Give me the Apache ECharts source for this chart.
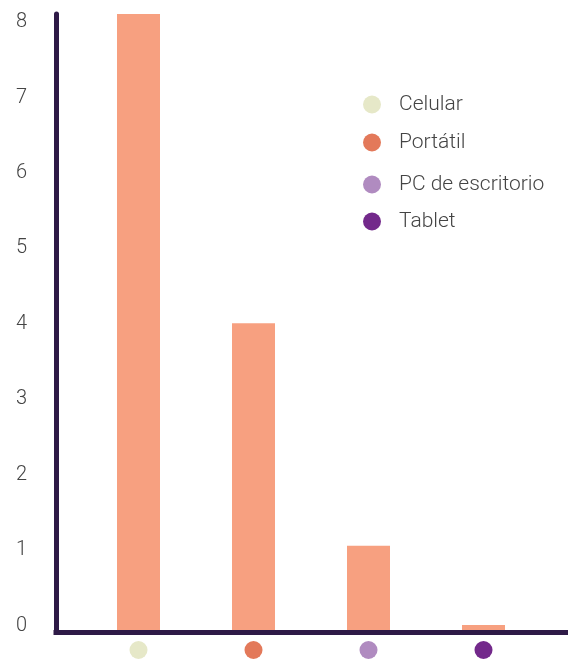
<!DOCTYPE html>
<html>
<head>
<meta charset="utf-8">
<script src="https://cdn.jsdelivr.net/npm/echarts@6/dist/echarts.min.js"></script>
<style>
  html, body { margin: 0; padding: 0; background: #ffffff; }
  #chart { width: 568px; height: 660px; }
</style>
</head>
<body>
<div id="chart"></div>
<script>
// Dispositivos usados y su valor
const categories = ['Celular', 'Portátil', 'PC de escritorio', 'Tablet'];
const values = [8.2, 4.1, 1.15, 0.1];
const dotColors = ['#e6e8c8', '#e3795a', '#b08bc0', '#73298b'];
const yTicks = [0, 1, 2, 3, 4, 5, 6, 7, 8];

const barColor = '#f7a080';
const axisColor = '#2e1a47';
const textColor = '#444444';
const fontFamily = 'Roboto, "Noto Sans", sans-serif';

// Legend rows sit at slightly uneven heights
const legendTops = [94, 132, 174, 211];

const chart = echarts.init(document.getElementById('chart'), null, { renderer: 'canvas' });

const rich = {};
dotColors.forEach((c, i) => {
  rich['d' + i] = { width: 18, height: 18, borderRadius: 9, backgroundColor: c };
});

const series = categories.map((name, i) => ({
  name: name,
  type: 'bar',
  stack: 'uso',
  xAxisIndex: 0,
  yAxisIndex: 0,
  barWidth: 43,
  itemStyle: { color: barColor },
  emphasis: { disabled: true },
  data: values.map((v, j) => (j === i ? v : '-'))
}));

const legends = categories.map((name, i) => ({
  top: legendTops[i],
  left: 363,
  padding: 0,
  orient: 'vertical',
  icon: 'circle',
  itemWidth: 18,
  itemHeight: 18,
  selectedMode: false,
  textStyle: {
    fontSize: 21, color: textColor, fontFamily: fontFamily, fontWeight: 300,
    padding: [0, 0, 0, 13]
  },
  data: [{ name: name, itemStyle: { color: dotColors[i] } }]
}));

chart.setOption({
  animation: false,
  grid: [
    { left: 81, right: 27, top: 14, bottom: 27.5 },
    { left: 56, right: 0, top: 14, bottom: 27.5 }
  ],
  legend: legends,
  xAxis: [
    {
      type: 'category',
      gridIndex: 0,
      data: categories,
      axisLine: { show: false },
      axisTick: { show: false },
      axisLabel: {
        margin: 8.5,
        formatter: (val, idx) => '{d' + idx + '|}',
        rich: rich
      }
    },
    {
      type: 'value',
      gridIndex: 1,
      z: 10,
      axisLine: { show: true, lineStyle: { color: axisColor, width: 5, cap: 'square' } },
      axisTick: { show: false },
      axisLabel: { show: false },
      splitLine: { show: false }
    }
  ],
  yAxis: [
    {
      type: 'value',
      gridIndex: 0,
      min: 0,
      max: 8.2,
      interval: 1,
      offset: 25,
      z: 10,
      axisLine: { show: true, lineStyle: { color: axisColor, width: 5, cap: 'round' } },
      axisTick: { show: false },
      splitLine: { show: false },
      axisLabel: {
        margin: 29,
        fontSize: 20,
        fontWeight: 300,
        fontFamily: fontFamily,
        color: textColor,
        verticalAlign: 'bottom',
        lineHeight: 14,
        formatter: (v) => (yTicks.indexOf(v) >= 0 ? String(v) : '')
      }
    },
    {
      type: 'value',
      gridIndex: 1,
      show: false
    }
  ],
  series: series
});
</script>
</body>
</html>
